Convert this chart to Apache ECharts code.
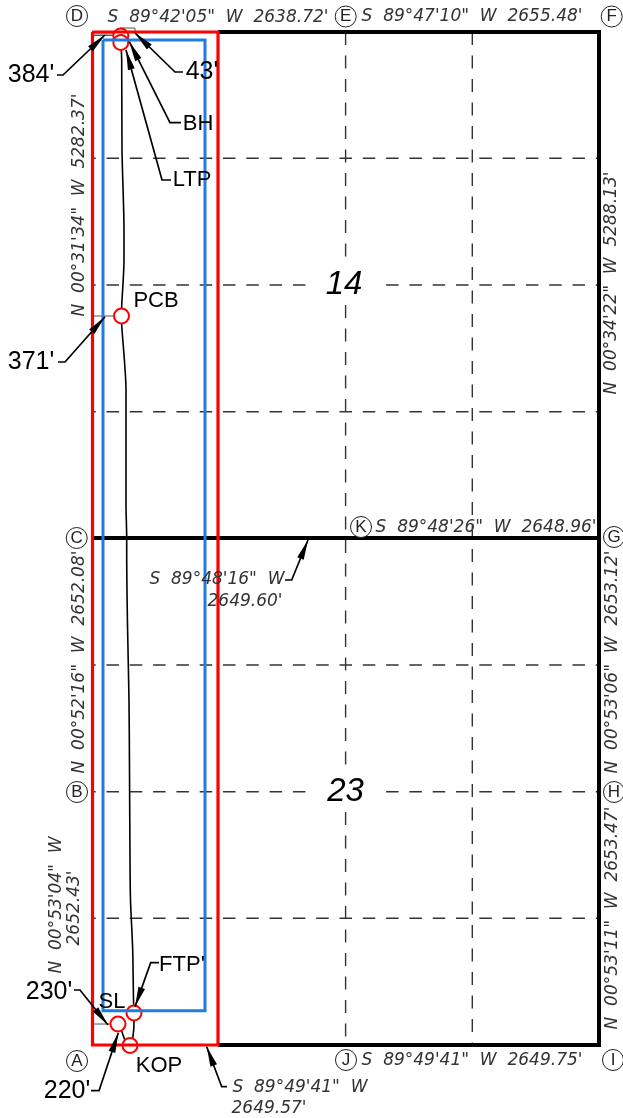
<!DOCTYPE html>
<html>
<head>
<meta charset="utf-8">
<style>html,body{margin:0;padding:0;background:#fff}#c{width:623px;height:1118px}</style>
<script src="https://cdn.jsdelivr.net/npm/echarts@6/dist/echarts.min.js"></script>
</head>
<body>
<div id="c"></div>
<script>
// All values are in plat sheet units
const sectionBorder = [[218,32],[599,32],[599,1045],[218,1045]];
const sectionBorderWest = [[92,32],[218,32],[218,1045],[92,1045],[92,32]];
const midLine = [[92,538],[599,538]];
const quarterRows = [
  [[92,158.3],[599,158.3]],
  [[92,285],[310,285]], [[381,285],[599,285]],
  [[92,411.7],[599,411.7]],
  [[92,665],[599,665]],
  [[92,791.7],[310,791.7]], [[381,791.7],[599,791.7]],
  [[92,918.3],[599,918.3]]
];
const quarterCols = [
  [[345.6,32],[345.6,259]], [[345.6,305],[345.6,773]], [[345.6,812],[345.6,1045]],
  [[472.3,32],[472.3,1045]]
];
const redUnit = [[92.5,32],[218,32],[218,1045],[92.5,1045],[92.5,32]];
const blueSetback = [[103,40],[205,40],[205,1010.7],[103,1010.7],[103,40]];
const wellPath = [[118,1024],[122,1032],[125,1040],[130,1045.5],[133,1036],[134,1022],[134,1013],[133.5,1000],[132.7,950],
  [130.5,900],[130,860],[129.5,770],[129,700],[127.5,625],[126.7,560],[126.7,538],[126,505],[126,440],[126,390],[121.7,325],[121.5,316],[121.7,306],
  [124,260],[124,230],[122,150],[121.7,60],[120.8,42]];
const wellStations = [[120.8,36],[120.8,42.5],[121.5,316],[134,1013],[118,1024],[130,1045.5]];
const tieLines = [
  [[93,34],[113,34]], [[93,35.5],[113,35.5]],
  [[120,28],[135,28]], [[135,28],[135,32]],
  [[93,316],[113,316]],
  [[93,1024],[110,1024]]
];
const leaders = [
  [[57,75],[63,75],[105,35]],
  [[183,72],[175,72],[135,33]],
  [[181,122.7],[170,122.7],[129.3,41.7]],
  [[171,180],[162,180],[126,50]],
  [[58,362],[65,362],[105,316.7]],
  [[74,990],[80,990],[108,1025]],
  [[91,1090.7],[99,1090.7],[118.3,1033]],
  [[159,962.7],[150.7,962.7],[135,1006.7]],
  [[227,1086.7],[221.7,1086.7],[206.7,1046.7]],
  [[285,580],[291.7,580],[308,540]]
];
const cornerMarks = [
  ['D',77,16],['E',345.7,16.5],['F',611.7,16.5],['C',76.7,538],['K',361,527],['G',614,537],
  ['B',77,792],['H',614,792],['A',77,1061],['J',346,1060],['I',613,1060]
];
const wordLabels = [
  ['BH',198,124],['LTP',192,180],['PCB',156,301],['SL',112,1002],["FTP'",182,965],['KOP',159,1066]
];
const distanceLabels = [
  ["384'",31,75],["43'",202,72],["371'",31,362],["230'",49,992],["220'",67,1091]
];
const sectionNumbers = [['14',344,285],['23',345.6,792]];
const bearingsFlat = [
  ["S  89°42'05\"  W  2638.72'",218,18],
  ["S  89°47'10\"  W  2655.48'",472,17],
  ["S  89°48'26\"  W  2648.96'",486,528],
  ["S  89°49'41\"  W  2649.75'",472,1061],
  ["S  89°49'41\"  W",300,1088],
  ["2649.57'",269,1109],
  ["S  89°48'16\"  W",217,580],
  ["2649.60'",245,602]
];
const bearingsUp = [
  ["N  00°31'34\"  W  5282.37'",80,205],
  ["N  00°52'16\"  W  2652.08'",80,662],
  ["N  00°53'04\"  W",57,905],
  ["2652.43'",75,908],
  ["N  00°34'22\"  W  5288.13'",612,283],
  ["N  00°53'06\"  W  2653.12'",613,662],
  ["N  00°53'11\"  W  2653.47'",613,918]
];

const lineSeries = (data, color, width, z, extra) => Object.assign({
  type:'line', data, showSymbol:false, silent:true, animation:false, clip:false, z,
  lineStyle:{color, width, cap:'butt', join:'miter'}
}, extra || {});

const textSeries = (rows, font, rotate, z) => ({
  type:'scatter', silent:true, animation:false, clip:false, z,
  symbol:'circle', symbolSize:1, itemStyle:{color:'rgba(0,0,0,0)', opacity:1},
  data: rows.map(r => ({value:[r[1],r[2]], name:r[0]})),
  label: Object.assign({show:true, position:'inside', formatter:p=>p.name, rotate, align:'center', verticalAlign:'middle'}, font)
});

const plainFont = {fontFamily:'Liberation Sans', color:'#000'};
const bearingFont = {fontFamily:'DejaVu Sans', fontStyle:'italic', fontSize:17, color:'#333'};

const series = [];
series.push(lineSeries(sectionBorder,'#000',4,2));
series.push(lineSeries(midLine,'#000',4,2));
series.push(lineSeries(sectionBorderWest,'#444',2,2));
quarterRows.forEach(d => {
  const s = lineSeries(d,'#333',1.4,1);
  s.lineStyle.type = [12.5,10.8];
  s.lineStyle.dashOffset = ((d[0][0]-339.5)%23.3+23.3)%23.3;
  series.push(s);
});
quarterCols.forEach(d => {
  const s = lineSeries(d,'#333',1.4,1);
  s.lineStyle.type = [13,10.5];
  series.push(s);
});
tieLines.forEach(d => series.push(lineSeries(d,'#555',1,3)));
series.push(lineSeries(wellPath,'#000',1.6,4,{smooth:0.25}));
series.push({
  type:'scatter', silent:true, animation:false, clip:false, z:5,
  symbol:'circle', symbolSize:15,
  itemStyle:{color:'#fff', borderColor:'#f00', borderWidth:2, opacity:1},
  data:wellStations
});
series.push(lineSeries(blueSetback,'#1f7ce0',3,6));
series.push(lineSeries(redUnit,'#f00',3.2,7));
leaders.forEach(d => series.push(lineSeries(d,'#000',1.7,8)));
// arrow heads: derived from the leader's last segment
series.push({
  type:'scatter', silent:true, animation:false, clip:false, z:9,
  symbol:'triangle', symbolSize:[7,20], itemStyle:{color:'#000', opacity:1},
  data: leaders.map(d => {
    const a=d[d.length-2], b=d[d.length-1], dx=b[0]-a[0], dy=b[1]-a[1], l=Math.hypot(dx,dy);
    return {value:[b[0]-dx/l*10, b[1]-dy/l*10], symbolRotate:Math.atan2(-dx,-dy)*180/Math.PI};
  })
});
series.push({
  type:'scatter', silent:true, animation:false, clip:false, z:10,
  symbol:'circle', symbolSize:21,
  itemStyle:{color:'#fff', borderColor:'#222', borderWidth:1, opacity:1},
  data: cornerMarks.map(r => ({value:[r[1],r[2]], name:r[0]})),
  label:{show:true, position:'inside', formatter:p=>p.name, fontFamily:'Liberation Sans', fontSize:17, color:'#222'}
});
series.push(textSeries(wordLabels, Object.assign({fontSize:22}, plainFont), 0, 11));
series.push(textSeries(distanceLabels, Object.assign({fontSize:25}, plainFont), 0, 11));
series.push(textSeries(sectionNumbers, {fontFamily:'Liberation Sans', fontStyle:'italic', fontSize:33, color:'#000'}, 0, 11));
series.push(textSeries(bearingsFlat, bearingFont, 0, 11));
series.push(textSeries(bearingsUp, bearingFont, 90, 11));

const chart = echarts.init(document.getElementById('c'), null, {renderer:'canvas', width:623, height:1118});
chart.setOption({
  animation:false,
  backgroundColor:'#fff',
  grid:{left:0, right:0, top:0, bottom:0},
  xAxis:{type:'value', min:0, max:623, show:false},
  yAxis:{type:'value', min:0, max:1118, inverse:true, show:false},
  series
});
</script>
</body>
</html>
